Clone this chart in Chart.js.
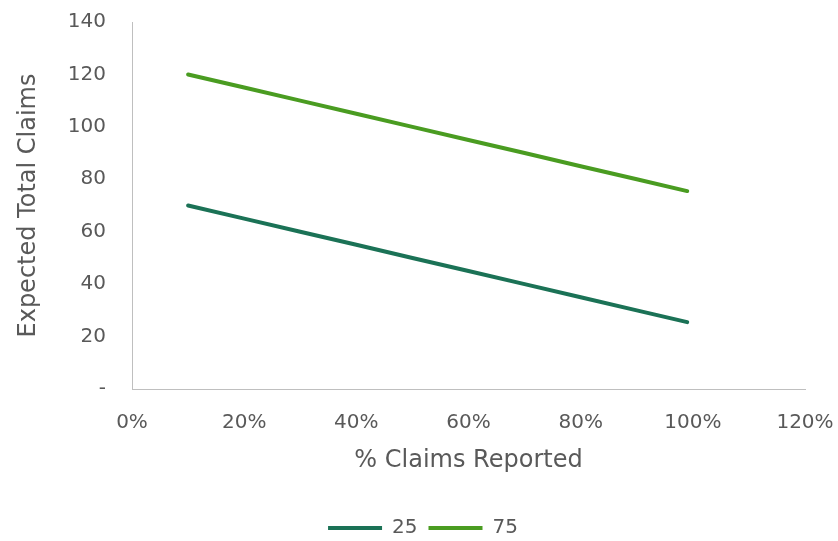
<!DOCTYPE html>
<html>
<head>
<meta charset="utf-8">
<script src="https://cdn.jsdelivr.net/npm/chart.js@4/dist/chart.umd.min.js"></script>
<style>
  html, body { margin: 0; padding: 0; background: #fff; }
  #wrap { width: 838px; height: 541px; }
</style>
</head>
<body>
<div id="wrap"><canvas id="claimsChart" width="838" height="541"></canvas></div>
<script>
// share of claims reported, and expected total claims for each reported amount
const pctReported = [0.10, 0.20, 0.30, 0.40, 0.50, 0.60, 0.70, 0.80, 0.90, 0.99];
const totals25 = [70, 65, 60, 55, 50, 45, 40, 35, 30, 25.5];
const totals75 = [120, 115, 110, 105, 100, 95, 90, 85, 80, 75.5];
const seriesNames = ['25', '75'];
const xTicks = [0, 0.2, 0.4, 0.6, 0.8, 1.0, 1.2];
const yTicks = [0, 20, 40, 60, 80, 100, 120, 140];

const FONT = "'Century Gothic', 'URW Gothic', 'DejaVu Sans', sans-serif";
const GREY = '#595959';

const toPoints = vals => pctReported.map((p, i) => ({ x: p, y: vals[i] }));

// pin the plot box: fixed axis sizes, no automatic label overflow padding
function fitX(s) {
  s.height = 118;
  s.paddingLeft = 0;
  s.paddingRight = 33;
  s.paddingTop = 0;
  s.paddingBottom = 0;
}
function fitY(s) {
  s.width = 124;
  s.paddingTop = 22;
  s.paddingBottom = 0;
  s.paddingLeft = 0;
  s.paddingRight = 0;
}

const ctx = document.getElementById('claimsChart').getContext('2d');
new Chart(ctx, {
  type: 'line',
  data: {
    datasets: [
      {
        label: seriesNames[0],
        data: toPoints(totals25),
        borderColor: '#1b7256',
        backgroundColor: '#1b7256',
        borderWidth: 4,
        pointRadius: 0,
        borderCapStyle: 'round'
      },
      {
        label: seriesNames[1],
        data: toPoints(totals75),
        borderColor: '#4a9c21',
        backgroundColor: '#4a9c21',
        borderWidth: 4,
        pointRadius: 0,
        borderCapStyle: 'round'
      }
    ]
  },
  options: {
    responsive: false,
    animation: false,
    // legend sits low in the frame
    layout: { padding: { top: 0, right: 0, left: 8, bottom: -7 } },
    scales: {
      x: {
        type: 'linear',
        min: 0,
        max: 1.2,
        afterBuildTicks: s => { s.ticks = xTicks.map(v => ({ value: v })); },
        afterFit: fitX,
        grid: { display: false, drawTicks: false },
        border: { display: true, color: '#bfbfbf', width: 1 },
        ticks: {
          color: GREY,
          font: { family: FONT, size: 20 },
          padding: 22,
          maxRotation: 0,
          callback: v => Math.round(v * 100) + '%'
        },
        title: {
          display: true,
          text: '% Claims Reported',
          color: GREY,
          font: { family: FONT, size: 24 },
          padding: { top: 6, bottom: 32 }
        }
      },
      y: {
        min: 0,
        max: 140,
        afterBuildTicks: s => { s.ticks = yTicks.map(v => ({ value: v })); },
        afterFit: fitY,
        grid: { display: false, drawTicks: false },
        border: { display: true, color: '#bfbfbf', width: 1 },
        ticks: {
          color: GREY,
          font: { family: FONT, size: 20 },
          padding: 26,
          callback: v => (v === 0 ? '-' : v)
        },
        title: {
          display: true,
          text: 'Expected Total Claims',
          color: GREY,
          font: { family: FONT, size: 24 },
          padding: { top: 6, bottom: 10 }
        }
      }
    },
    plugins: {
      legend: {
        position: 'bottom',
        labels: {
          color: GREY,
          font: { family: FONT, size: 20 },
          usePointStyle: true,
          pointStyle: 'line',
          pointStyleWidth: 54,
          boxHeight: 4,
          padding: 11
        }
      },
      tooltip: { enabled: false }
    }
  }
});
</script>
</body>
</html>
